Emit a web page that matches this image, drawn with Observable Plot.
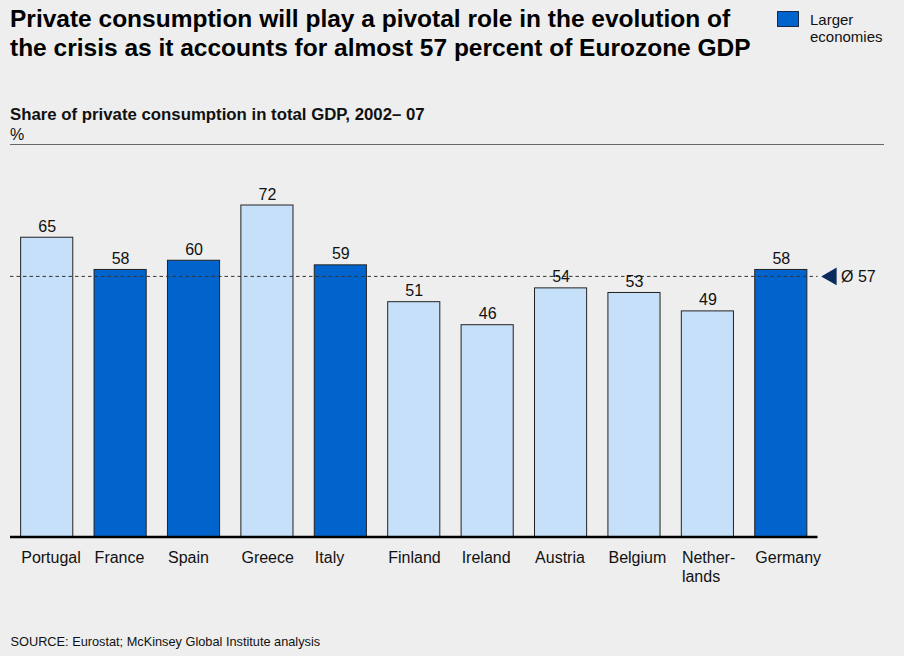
<!DOCTYPE html>
<html>
<head>
<meta charset="utf-8">
<script src="https://cdn.jsdelivr.net/npm/d3@7"></script>
<script src="https://cdn.jsdelivr.net/npm/@observablehq/plot@0.6"></script>
<style>
  html, body { margin: 0; padding: 0; background: #eeeeee; }
  body { width: 904px; height: 656px; position: relative; overflow: hidden;
         font-family: "Liberation Sans", Arial, sans-serif; color: #111; }
  .abs { position: absolute; white-space: nowrap; }
  #title { left: 10px; top: 4.3px; font-size: 24.5px; line-height: 29px; font-weight: bold; color: #000; }
  #subtitle { left: 10px; top: 105px; font-size: 16.8px; line-height: 19.5px; }
  #subtitle b { font-weight: bold; }
  #subtitle span { font-size: 16px; }
  #rule { left: 10px; top: 143.5px; width: 874px; height: 0; border-top: 1.5px solid #666; }
  #legend-swatch { left: 777px; top: 10.5px; width: 20px; height: 14px; background: #0064cc; border: 1px solid #1a2a44; }
  #legend-text { left: 810px; top: 11.3px; font-size: 15px; line-height: 17px; }
  #footer { left: 10.5px; top: 634.3px; font-size: 12.75px; line-height: 15px; }
  #chart { position: absolute; left: 0; top: 150px; }
</style>
</head>
<body>
<div id="title" class="abs">Private consumption will play a pivotal role in the evolution of<br>the crisis as it accounts for almost 57 percent of Eurozone GDP</div>
<div id="legend-swatch" class="abs"></div>
<div id="legend-text" class="abs">Larger<br>economies</div>
<div id="subtitle" class="abs"><b>Share of private consumption in total GDP, 2002– 07</b><br><span>%</span></div>
<div id="rule" class="abs"></div>
<div id="chart"></div>
<div id="footer" class="abs">SOURCE: Eurostat; McKinsey Global Institute analysis</div>
<script>
const countries = ["Portugal","France","Spain","Greece","Italy","Finland","Ireland","Austria","Belgium","Netherlands","Germany"];
const axisLabels = ["Portugal","France","Spain","Greece","Italy","Finland","Ireland","Austria","Belgium","Nether-\nlands","Germany"];
const shares = [65,58,60,72,59,51,46,54,53,49,58];
const largerEconomy = [false,true,true,false,true,false,false,false,false,false,true];
const average = 56.6;
const averageLabel = "Ø 57";

const data = countries.map((c, i) => ({
  country: c,
  label: axisLabels[i],
  share: shares[i],
  group: largerEconomy[i] ? "Larger economies" : "Other"
}));
const labelOf = new Map(data.map(d => [d.country, d.label]));

const chart = Plot.plot({
  width: 904,
  height: 450,
  marginLeft: 10,
  marginRight: 86.5,
  marginTop: 55,
  marginBottom: 63.5,
  style: { background: "transparent", fontFamily: "Liberation Sans, Arial, sans-serif", color: "#111" },
  x: { domain: countries, paddingInner: 0.29, paddingOuter: 0.145, round: false },
  y: { domain: [0, 72], axis: null },
  color: { type: "ordinal", domain: ["Larger economies", "Other"], range: ["#0064cc", "#c6e0f9"] },
  marks: [
    Plot.barY(data, { x: "country", y: "share", fill: "group", stroke: "#222", strokeWidth: 1 }),
    Plot.ruleY([average], { stroke: "#333", strokeWidth: 1, strokeDasharray: "3.5,3" }),
    Plot.ruleY([0], { stroke: "#000", strokeWidth: 2.6 }),
    Plot.text(data, { x: "country", y: "share", text: d => String(d.share), dy: -6, lineAnchor: "bottom", fontSize: 16, fill: "#111" }),
    Plot.axisX({ tickSize: 0, tickPadding: 12.5, textAnchor: "start", dx: -26, fontSize: 16, lineHeight: 1.2, fill: "#111", tickFormat: c => labelOf.get(c), label: null }),
    Plot.dot([average], { y: d => d, frameAnchor: "right", dx: 13.5, symbol: "triangle", rotate: -90, r: 6.6, fill: "#0a2a5e", stroke: "none" }),
    Plot.text([average], { y: d => d, text: () => averageLabel, frameAnchor: "right", dx: 23, textAnchor: "start", fontSize: 16, fill: "#111" })
  ]
});
document.getElementById("chart").appendChild(chart);
</script>
</body>
</html>
